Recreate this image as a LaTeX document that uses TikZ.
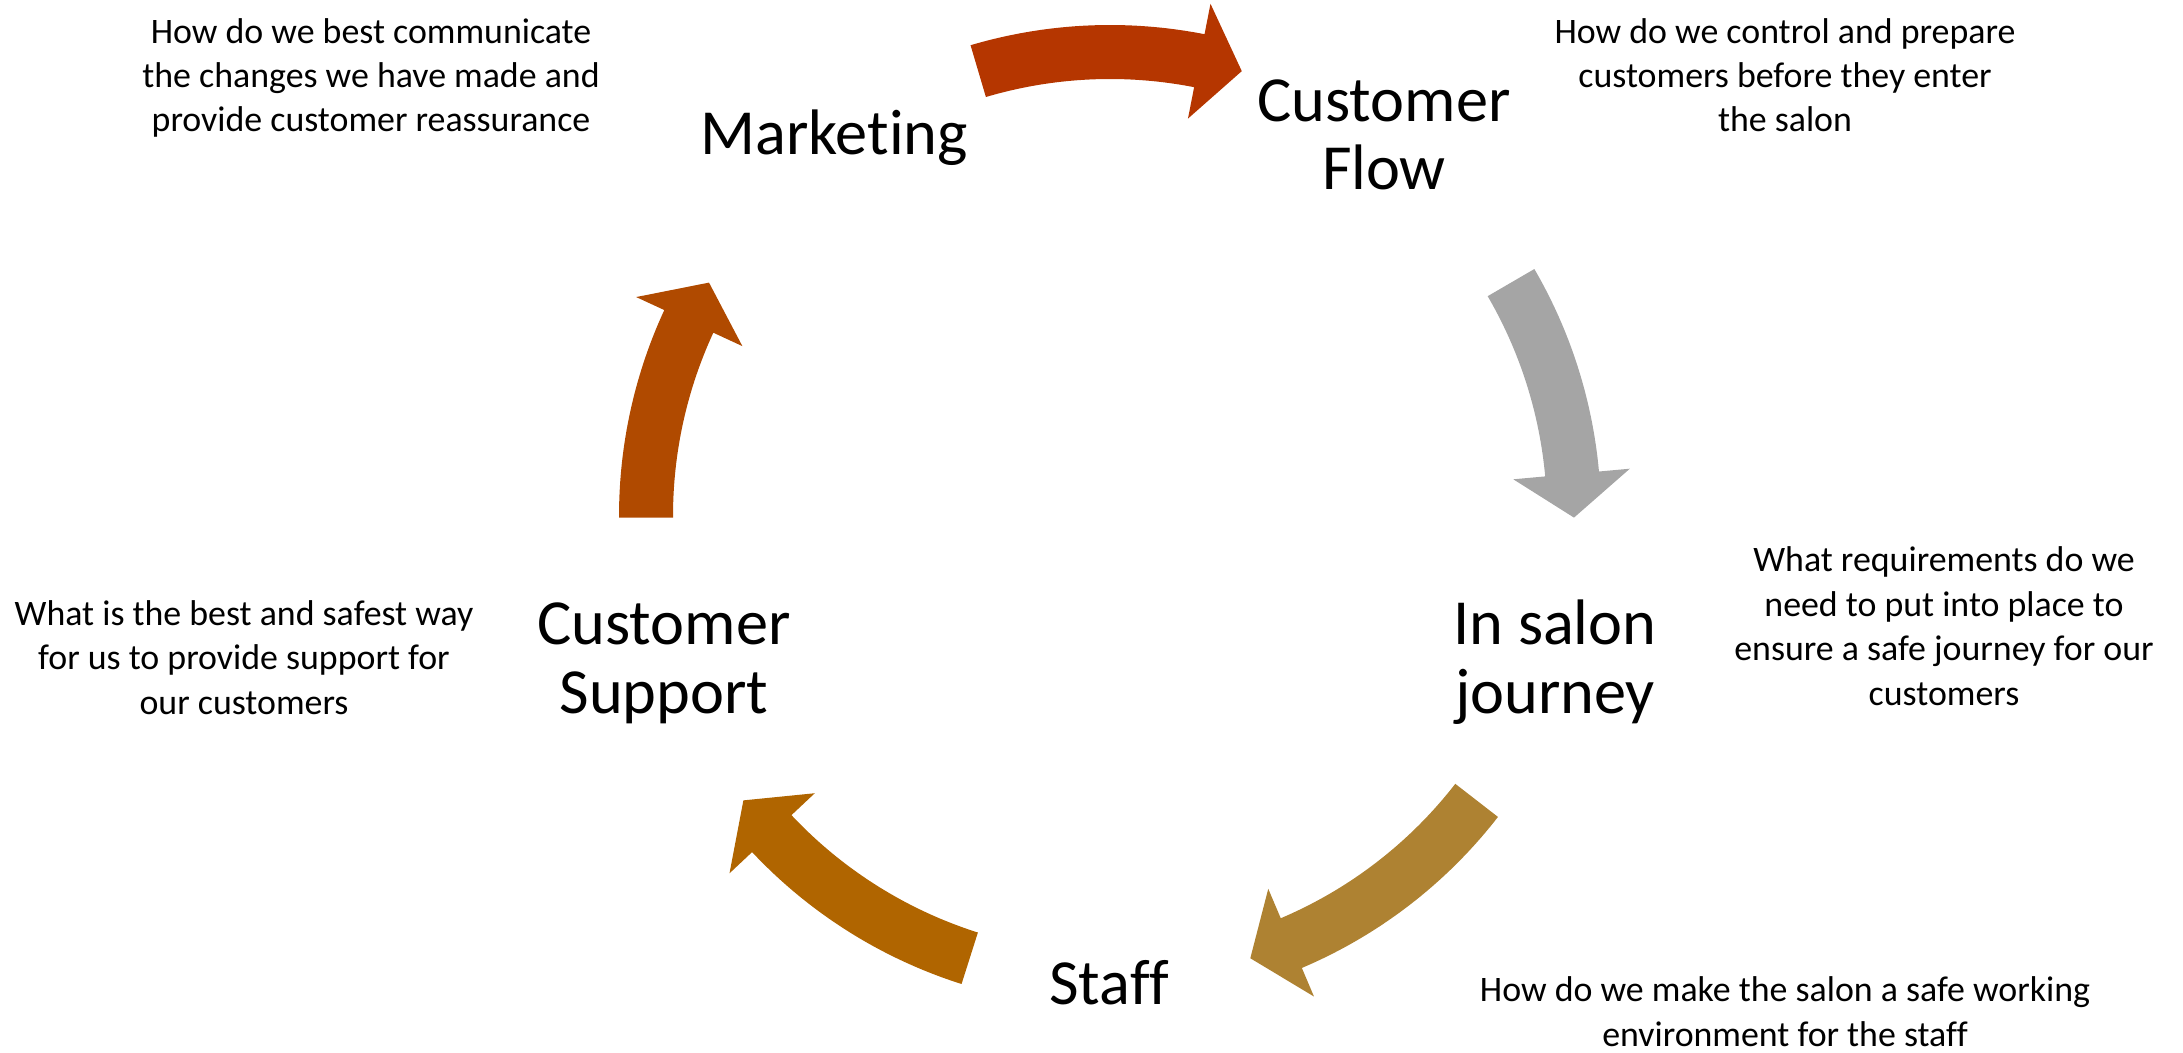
\documentclass[tikz,border=0pt]{standalone}
\usepackage{fontspec}
\setmainfont{Carlito}[Ligatures=NoCommon]
\definecolor{arrowRed}{RGB}{181,54,0}
\definecolor{arrowRust}{RGB}{176,74,0}
\definecolor{arrowAmber}{RGB}{176,101,0}
\definecolor{arrowGold}{RGB}{174,130,50}
\definecolor{arrowGrey}{RGB}{165,165,165}
% curved block arrow running clockwise on the ring: colour, tail angle, tip angle
\newcommand\ringarrow[3]{%
  \pgfmathsetmacro\headbase{#3+5.4}%
  \fill[#1] plot[domain=#2:\headbase, samples=50] (\x:491)
    -- (\headbase:522) -- (#3:464) -- (\headbase:405) -- (\headbase:437)
    -- plot[domain=\headbase:#2, samples=50] (\x:437) -- cycle;%
}
\begin{document}
\begin{tikzpicture}[x=0.1mm, y=0.1mm,
  % multi-line nodes sit on the baseline of their last line
  stage/.style={inner sep=0pt, align=center, anchor=base,
    font=\fontsize{18.3}{19.35}\selectfont},
  question/.style={inner sep=0pt, align=center, anchor=base,
    font=\fontsize{10.2}{12.66}\selectfont}]
\useasboundingbox (0,0) rectangle (2183,1052);

% ring of arrows around the centre of the cycle
\begin{scope}[shift={(1110,536)}]
  \ringarrow{arrowRed}{106.5}{73.5}
  \ringarrow{arrowGrey}{30.2}{-0.2}
  \ringarrow{arrowGold}{-37.8}{-72.4}
  \ringarrow{arrowAmber}{252.4}{217.8}
  \ringarrow{arrowRust}{180.2}{149.8}
\end{scope}

% stages
\node[stage] (mkt)   at (834,897)  {Marketing};
\node[stage] (flow)  at (1384,862) {Customer\\Flow};
\node[stage] (salon) at (1555,339) {In salon\\journey};
\node[stage] (staff) at (1109,48)  {Staff};
\node[stage] (supp)  at (664,339)  {Customer\\Support};

% questions for each stage
\node[question] (qmkt)   at (371,920)  {How do we best communicate\\the changes we have made and\\provide customer reassurance};
\node[question] (qflow)  at (1785,920) {How do we control and prepare\\customers before they enter\\the salon};
\node[question] (qsalon) at (1944,347) {What requirements do we\\need to put into place to\\ensure a safe journey for our\\customers};
\node[question] (qstaff) at (1785,6)   {How do we make the salon a safe working\\environment for the staff};
\node[question] (qsupp)  at (244,338)  {What is the best and safest way\\for us to provide support for\\our customers};
\end{tikzpicture}
\end{document}
